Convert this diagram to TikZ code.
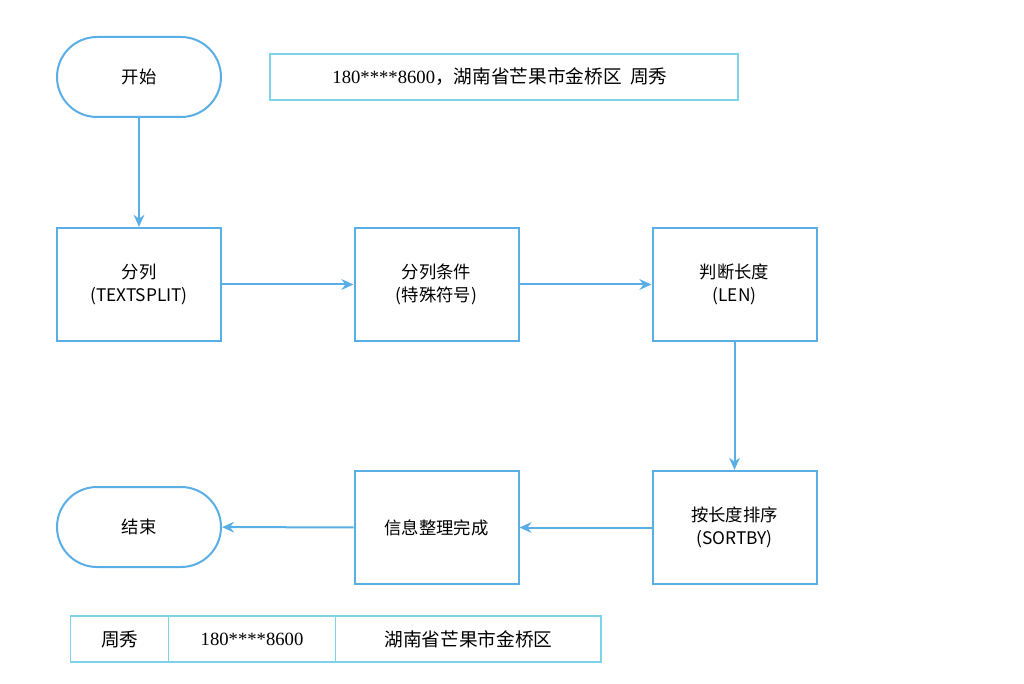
\documentclass[tikz,border=0pt]{standalone}
\usepackage{fontspec}
\setmainfont{Liberation Sans}
\newfontfamily\cjk{Noto Sans CJK SC}
\newfontfamily\serifnum{Liberation Serif}
\usetikzlibrary{arrows.meta}
\definecolor{bl}{HTML}{5AAEE6}
\definecolor{cy}{HTML}{7FD3E6}
\begin{document}
\begin{tikzpicture}[x=0.75pt,y=-0.75pt,
  box/.style={draw=bl,line width=1.5pt,fill=white,minimum width=123pt,minimum height=85pt,align=center,font=\cjk\fontsize{13}{17}\selectfont},
  stad/.style={box,rounded corners=30pt,minimum height=60pt},
  arr/.style={draw=bl,line width=1.5pt,-{Stealth[length=9pt,width=8pt]}},
  tb/.style={draw=cy,line width=1pt,inner sep=0pt,minimum height=34.5pt,anchor=west,font=\fontsize{14}{17}\selectfont}]
\useasboundingbox (0,0) rectangle (1024,684);
\node[stad] (start) at (139,77) {开始};
\node[tb,minimum width=351pt,anchor=center] (top) at (504,77) {\hspace*{-6pt}\serifnum 180****8600{\cjk，湖南省芒果市金桥区\ \ 周秀}\hfill};
\node[box] (split) at (139,284.5) {分列\\(TEXTSPLIT)};
\node[box] (cond) at (436.5,284.5) {分列条件\\(特殊符号)};
\node[box] (len) at (734.5,284.5) {判断长度\\(LEN)};
\node[box] (sort) at (734.5,527.5) {按长度排序\\(SORTBY)};
\node[box] (info) at (436.5,527.5) {信息整理完成};
\node[stad] (end) at (139,527) {结束};
\node[tb,minimum width=73.5pt] (c1) at (70,639) {\cjk 周秀};
\node[tb,minimum width=125pt] (c2) at (168,639) {\serifnum 180****8600};
\node[tb,minimum width=199pt] (c3) at (335,639) {\cjk 湖南省芒果市金桥区};
\draw[arr] (start) -- (split);
\draw[arr] (split) -- (cond);
\draw[arr] (cond) -- (len);
\draw[arr] (len) -- (sort);
\draw[arr] (sort) -- (info);
\draw[arr] (info) -- (end);
\end{tikzpicture}
\end{document}
